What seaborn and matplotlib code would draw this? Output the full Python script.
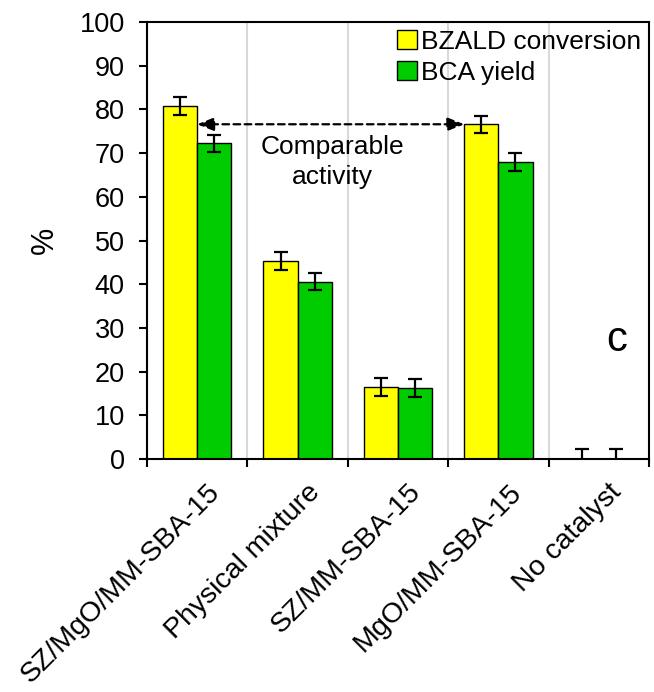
import numpy as np
import pandas as pd
import matplotlib
matplotlib.use("Agg")
import matplotlib.pyplot as plt
from matplotlib.transforms import ScaledTranslation
import seaborn as sns

# Catalyst screening: benzaldehyde conversion and cinnamic acid yield
catalysts = ["SZ/MgO/MM-SBA-15", "Physical mixture", "SZ/MM-SBA-15",
             "MgO/MM-SBA-15", "No catalyst"]
series_names = ["BZALD conversion", "BCA yield"]
conversion = [80.8, 45.3, 16.5, 76.6, 0.0]
conversion_err = [2.0, 2.0, 2.0, 2.0, 2.2]
bca_yield = [72.2, 40.6, 16.2, 68.0, 0.0]
bca_yield_err = [1.9, 2.0, 2.0, 2.0, 2.2]
y_ticks = list(range(0, 101, 10))

sns.set_style("white")
plt.rcParams["font.family"] = ["Liberation Sans", "DejaVu Sans"]
plt.rcParams["text.color"] = "black"
plt.rcParams["axes.labelcolor"] = "black"
plt.rcParams["xtick.color"] = "black"
plt.rcParams["ytick.color"] = "black"

df = pd.DataFrame({
    "catalyst": catalysts * 2,
    "series": [series_names[0]] * len(catalysts) + [series_names[1]] * len(catalysts),
    "value": conversion + bca_yield,
})

fig = plt.figure(figsize=(6.54, 6.92), dpi=100)
ax = fig.add_axes([0.2248, 0.3367, 0.7676, 0.6315])

bar_w = 0.68
sns.barplot(data=df, x="catalyst", y="value", hue="series", order=catalysts,
            hue_order=series_names, palette=["#FFFF00", "#00CC00"],
            width=bar_w, errorbar=None, edgecolor="black", linewidth=1.0,
            saturation=1, ax=ax, zorder=2)

# error bars at the bar centres
x = np.arange(len(catalysts))
off = bar_w / 4
eb_kw = dict(fmt="none", ecolor="black", elinewidth=1.6, capsize=5,
             capthick=1.6, zorder=3)
ax.errorbar(x - off, conversion, yerr=conversion_err, **eb_kw)
ax.errorbar(x + off, bca_yield, yerr=bca_yield_err, **eb_kw)

ax.set_xlim(-0.5, len(catalysts) - 0.5)
ax.set_ylim(0, 100)
ax.set_yticks(y_ticks)
ax.tick_params(axis="y", which="major", direction="out", length=6, width=1.5,
               labelsize=19.5, pad=10, left=True, color="black", labelcolor="black")

# major x ticks on category boundaries, labels on minor ticks at centres
ax.set_xticks(np.arange(-0.5, len(catalysts), 1.0))
ax.set_xticklabels([])
ax.set_xticks(x, minor=True)
ax.set_xticklabels(catalysts, minor=True, rotation=45, ha="right",
                   va="center", rotation_mode="anchor", fontsize=20.5,
                   color="black")
ax.tick_params(axis="x", which="major", direction="out", length=6, width=1.5,
               bottom=True, color="black")
ax.tick_params(axis="x", which="minor", length=0, pad=21)
for lab in ax.get_xticklabels(minor=True):
    lab.set_transform(lab.get_transform() + ScaledTranslation(0.19, 0, fig.dpi_scale_trans))

ax.set_xlabel("")
ax.set_ylabel("%", fontsize=22, labelpad=14, color="black")

ax.xaxis.grid(True, which="major", color="#d9d9d9", linewidth=1.5)
ax.yaxis.grid(False)
ax.set_axisbelow(True)
for s in ax.spines.values():
    s.set_visible(True)
    s.set_color("black")
    s.set_linewidth(1.5)

# comparison arrow between the two most active catalysts
ax.annotate("", xy=(3 - bar_w / 2, conversion[3]), xytext=(0, conversion[3]),
            arrowprops=dict(arrowstyle="<|-|>,head_length=1.0,head_width=0.4",
                            linestyle=(0, (3, 2)), lw=1.6, color="black",
                            shrinkA=0, shrinkB=0), zorder=4)
ax.text(1.35, 68.0, "Comparable\nactivity", ha="center", va="center",
        fontsize=19, linespacing=1.35)
ax.text(4.18, 27.2, "c", ha="center", va="center", fontsize=30)

handles, labels = ax.get_legend_handles_labels()
ax.legend(handles, labels, loc="upper right", bbox_to_anchor=(1.0, 1.0),
          frameon=False, fontsize=19, handlelength=0.75, handleheight=0.75,
          handletextpad=0.15, labelspacing=0.25, borderaxespad=0.1,
          borderpad=0.2, labelcolor="black")

fig.savefig("out.png", dpi=100)
